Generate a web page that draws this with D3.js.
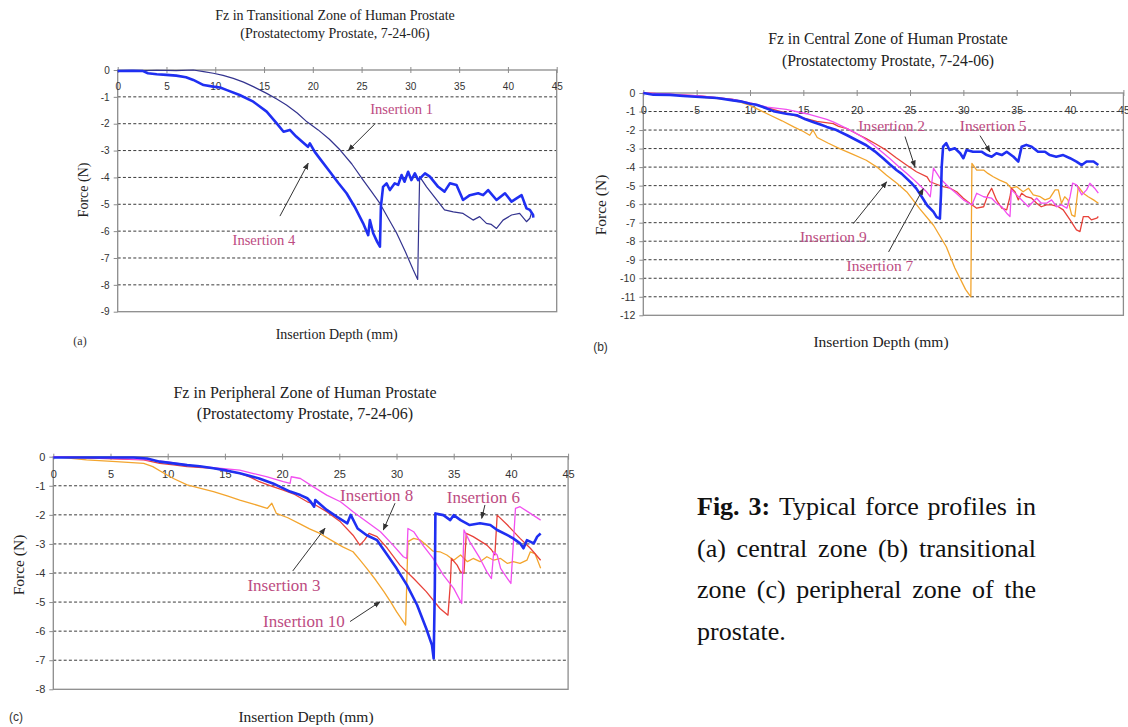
<!DOCTYPE html>
<html><head><meta charset="utf-8">
<script src="https://cdn.jsdelivr.net/npm/d3@7"></script>
<style>body{margin:0;background:#fff}svg{display:block}</style>
</head><body>
<svg id="fig" width="1128" height="727"></svg>
<script>
// ---------------- DATA ----------------
const xTickValues = [0,5,10,15,20,25,30,35,40,45];
const yTicksA = [0,-1,-2,-3,-4,-5,-6,-7,-8,-9];
const yTicksB = [0,-1,-2,-3,-4,-5,-6,-7,-8,-9,-10,-11,-12];
const yTicksC = [0,-1,-2,-3,-4,-5,-6,-7,-8];

const titleA = ["Fz in Transitional Zone of Human Prostate", "(Prostatectomy Prostate, 7-24-06)"];
const titleB = ["Fz in Central Zone of Human Prostate", "(Prostatectomy Prostate, 7-24-06)"];
const titleC = ["Fz in Peripheral Zone of Human Prostate", "(Prostatectomy Prostate, 7-24-06)"];
const xAxisTitle = "Insertion Depth (mm)";
const yAxisTitle = "Force (N)";
const panelTags = ["(a)", "(b)", "(c)"];

// Panel (a)
const insertion1 = [[0,-0.02],[2,-0.03],[4,-0.01],[6,-0.02],[7.75,0],[8.8,-0.06],[9.8,-0.12],[10.8,-0.2],[11.85,-0.31],[12.9,-0.45],[13.9,-0.62],[15.27,-0.87],[16.3,-1.08],[17.3,-1.3],[18.4,-1.6],[19.4,-1.93],[20.55,-2.23],[21.7,-2.58],[22.8,-2.98],[24.0,-3.5],[25.16,-4.1],[26.0,-4.52],[26.88,-4.97],[27.7,-5.5],[28.6,-6.08],[29.5,-6.78],[30.3,-7.45],[30.75,-7.8],[30.85,-5.84],[30.95,-3.97],[31.66,-4.35],[32.7,-4.84],[33.5,-5.21],[34.4,-5.28],[35.4,-5.34],[36.43,-5.59],[37.1,-5.46],[37.8,-5.71],[38.3,-5.75],[38.83,-5.9],[39.5,-5.59],[40.37,-5.4],[41.2,-5.34],[41.9,-5.65],[42.25,-5.52],[42.4,-5.34]];
const insertion4 = [[0,-0.04],[1.5,-0.03],[2.6,-0.04],[3.1,-0.12],[4,-0.16],[5,-0.18],[6,-0.21],[7,-0.27],[7.75,-0.37],[8.8,-0.56],[9.8,-0.62],[10.5,-0.65],[11.2,-0.75],[12.5,-0.93],[13.9,-1.18],[15.27,-1.55],[16.3,-1.99],[17,-2.3],[17.65,-2.23],[18.3,-2.48],[19.0,-2.7],[19.5,-2.86],[19.7,-2.73],[20.2,-3.05],[20.7,-3.29],[21.75,-3.79],[22.6,-4.2],[23.46,-4.59],[24.3,-5.1],[25.16,-5.71],[25.68,-6.15],[25.85,-5.59],[26.19,-6.08],[26.6,-6.4],[26.88,-6.58],[26.98,-5.09],[27.2,-4.35],[27.56,-4.22],[27.9,-4.47],[28.4,-4.22],[28.75,-4.28],[29.1,-3.91],[29.4,-4.16],[29.77,-3.79],[30.1,-4.1],[30.46,-3.85],[30.8,-4.1],[31.5,-3.85],[32,-3.97],[32.85,-4.35],[33.5,-4.53],[34.05,-4.22],[34.73,-4.28],[35.4,-4.84],[36.1,-4.66],[36.95,-4.59],[37.46,-4.66],[37.97,-4.47],[38.83,-4.84],[39.7,-4.59],[40.37,-4.9],[41.0,-4.75],[41.4,-4.66],[41.9,-5.15],[42.25,-5.21],[42.58,-5.4],[42.6,-5.5]];

// Panel (b)
const insertion7 = [[0,0],[2.2,-0.09],[5.3,-0.22],[7.8,-0.34],[9.1,-0.49],[10,-0.67],[11.0,-0.95],[11.9,-1.2],[13.0,-1.5],[14.1,-1.83],[15.0,-2.08],[15.6,-2.28],[15.9,-2.0],[16.3,-2.4],[17.3,-2.7],[18.4,-3.0],[19.6,-3.3],[20.9,-3.63],[21.9,-4.0],[22.8,-4.44],[23.8,-4.88],[24.7,-5.34],[25.9,-6.24],[27.2,-7.14],[28.4,-8.3],[29.2,-9.45],[30.2,-10.6],[30.7,-11.0],[30.8,-3.8],[31.25,-4.16],[31.9,-4.16],[32.3,-4.34],[32.8,-4.52],[33.4,-4.7],[34.06,-4.87],[34.5,-5.14],[35,-5.06],[35.6,-5.33],[36.1,-5.14],[36.55,-5.5],[37.2,-5.6],[37.65,-5.77],[38.1,-5.68],[38.6,-5.23],[38.9,-5.23],[39.2,-5.95],[39.5,-5.6],[39.8,-5.77],[40.15,-6.58],[40.45,-6.67],[40.77,-5.06],[41.24,-5.41],[41.7,-5.6],[42.2,-5.77],[42.65,-5.95]];
const insertion2 = [[0,0],[2.5,-0.08],[5.3,-0.16],[8.4,-0.34],[10.6,-0.63],[12.5,-0.94],[14.7,-1.3],[16.25,-1.53],[17.8,-1.65],[18.3,-1.8],[19.1,-1.92],[20.0,-2.2],[20.9,-2.46],[21.8,-2.75],[22.8,-3.1],[23.7,-3.5],[24.7,-3.9],[25.6,-4.25],[26.6,-4.53],[26.87,-4.79],[28.1,-5.06],[28.75,-5.14],[29.37,-5.33],[30,-5.68],[30.6,-5.95],[31.25,-6.22],[31.9,-6.14],[32.3,-5.5],[32.65,-5.14],[33.1,-5.77],[33.6,-6.22],[34.06,-6.31],[34.37,-5.6],[34.5,-5.14],[34.84,-5.33],[35.15,-5.77],[35.46,-5.41],[35.9,-5.6],[36.4,-5.68],[36.87,-5.95],[37.3,-6.14],[37.8,-6.04],[38.27,-6.04],[38.9,-6.14],[39.36,-6.31],[40,-6.85],[40.6,-7.39],[40.93,-7.48],[41.24,-6.67],[41.7,-6.67],[42,-6.85],[42.5,-6.76],[42.65,-6.67]];
const insertion5 = [[0,0],[2.5,-0.06],[5.3,-0.15],[8.4,-0.34],[10,-0.54],[11.6,-0.76],[13.4,-0.88],[15.3,-1.12],[17.2,-1.42],[17.8,-1.56],[19.1,-1.92],[19.7,-2.1],[20.6,-2.4],[21.6,-2.82],[22.4,-3.2],[23.1,-3.54],[23.9,-3.95],[24.7,-4.35],[25.3,-4.65],[25.9,-4.98],[26.5,-5.3],[26.9,-5.6],[27.05,-4.8],[27.2,-4.06],[27.8,-4.6],[28.6,-5.06],[29.3,-5.4],[30,-5.77],[30.8,-6.04],[31.25,-5.41],[31.9,-5.6],[32.65,-5.68],[33.1,-5.95],[33.6,-6.14],[34.06,-6.49],[34.37,-6.67],[34.5,-5.23],[35,-5.5],[35.6,-5.86],[36.1,-6.14],[36.4,-5.95],[36.87,-5.68],[37.3,-5.95],[37.8,-5.95],[38.27,-5.77],[38.75,-6.14],[39.2,-6.04],[39.7,-6.22],[40,-5.6],[40.24,-4.87],[40.6,-4.96],[41.1,-5.5],[41.55,-5.23],[41.86,-4.87],[42.3,-5.14],[42.65,-5.41]];
const insertion9 = [[0,0],[0.94,-0.09],[2.5,-0.1],[3.75,-0.16],[5.3,-0.22],[6.9,-0.27],[8.4,-0.4],[9.1,-0.45],[10,-0.58],[10.6,-0.63],[11.4,-0.8],[12.2,-0.98],[13.4,-1.12],[14.4,-1.2],[15.2,-1.42],[15.9,-1.56],[16.6,-1.7],[17.2,-1.83],[18.1,-2.0],[19.1,-2.28],[20.0,-2.55],[20.9,-2.82],[21.7,-3.15],[22.5,-3.54],[23.1,-3.85],[23.75,-4.17],[24.2,-4.35],[24.7,-4.62],[25.2,-4.9],[25.6,-5.16],[26.1,-5.6],[26.6,-6.06],[27.2,-6.42],[27.5,-6.7],[27.8,-6.78],[27.9,-5.5],[27.97,-3.98],[28.1,-2.9],[28.4,-2.71],[28.7,-3.08],[29.2,-2.98],[29.7,-3.25],[30,-3.52],[30.3,-3.08],[30.9,-3.17],[31.7,-3.17],[32.2,-3.35],[32.65,-3.44],[33.1,-3.25],[33.6,-3.35],[34.06,-3.17],[34.7,-3.44],[35.15,-3.7],[35.46,-2.9],[35.9,-2.8],[36.4,-2.9],[37,-3.17],[37.65,-3.17],[38.1,-3.35],[38.7,-3.44],[39.36,-3.35],[40,-3.52],[40.6,-3.7],[41.1,-3.89],[41.55,-3.7],[42.2,-3.7],[42.65,-3.89]];

// Panel (c)
const insertion10 = [[0,0],[2.9,-0.11],[5.5,-0.17],[7.9,-0.23],[8.7,-0.34],[9.6,-0.55],[10.5,-0.75],[11.7,-0.97],[12.8,-1.08],[14,-1.2],[15.2,-1.35],[16.3,-1.49],[17.5,-1.63],[18.7,-1.78],[19.1,-1.6],[19.5,-1.95],[20.5,-2.1],[21.6,-2.32],[22.4,-2.48],[23.3,-2.64],[24.5,-2.92],[25.3,-3.1],[26.2,-3.27],[26.8,-3.55],[27.4,-3.84],[28.2,-4.25],[28.9,-4.64],[29.5,-5.0],[30.0,-5.33],[30.8,-5.79],[30.9,-4.3],[31,-2.92],[31.5,-2.81],[32.1,-2.87],[32.6,-3.04],[33.2,-3.25],[33.8,-3.27],[34.4,-3.38],[35,-3.56],[35.6,-3.38],[36.2,-3.61],[36.7,-3.5],[37.3,-3.61],[37.9,-3.44],[38.5,-3.56],[39.1,-3.5],[39.7,-3.67],[40.2,-3.61],[40.8,-3.67],[41.4,-3.56],[41.7,-3.27],[42.1,-3.33],[42.6,-3.84]];
const insertion3 = [[0,0],[4,-0.06],[7.9,-0.11],[9.3,-0.23],[10.5,-0.28],[11.7,-0.34],[14,-0.4],[16.3,-0.57],[17.2,-0.7],[18,-0.86],[19,-1.0],[20.1,-1.15],[21.1,-1.3],[22.2,-1.55],[22.7,-1.61],[23.9,-1.89],[25.1,-2.24],[26.2,-2.7],[26.8,-3.04],[27.2,-2.87],[27.6,-2.64],[28.3,-2.75],[29.2,-3.15],[30.3,-3.73],[31.5,-4.19],[32.6,-4.64],[33.8,-5.22],[34.5,-5.45],[34.7,-4.41],[34.8,-3.5],[35.3,-3.73],[35.6,-3.96],[35.9,-4.01],[36.1,-2.64],[36.7,-2.75],[37.9,-3.04],[38.3,-3.2],[38.6,-3.38],[38.8,-2.01],[39.7,-2.35],[40.8,-2.81],[41.7,-3.15],[42.6,-3.56]];
const insertion8 = [[0,0],[4,-0.04],[8,-0.1],[10,-0.18],[12,-0.3],[14,-0.38],[16.3,-0.46],[17.5,-0.58],[18.7,-0.69],[20.1,-0.86],[20.7,-0.92],[20.8,-0.69],[21.6,-0.75],[22.7,-1.03],[23.9,-1.32],[25.1,-1.55],[26.2,-1.89],[27.4,-2.24],[28.6,-2.58],[29.7,-3.04],[30.6,-3.44],[30.9,-3.5],[31,-2.47],[31.5,-2.58],[32.3,-3.04],[33.2,-3.5],[34.1,-4.07],[35,-4.53],[35.7,-5.05],[35.9,-2.52],[36.4,-2.92],[37.3,-3.5],[37.9,-3.96],[38.3,-4.19],[38.5,-3.27],[38.8,-3.38],[39.1,-3.84],[39.7,-4.19],[40,-4.36],[40.4,-1.78],[40.8,-1.72],[41.7,-1.95],[42.6,-2.18]];
const insertion6 = [[0,-0.03],[3,-0.03],[7,-0.03],[8.2,-0.06],[9.3,-0.17],[10.5,-0.23],[11.7,-0.29],[12.8,-0.33],[14,-0.4],[15.2,-0.48],[16.3,-0.57],[17.2,-0.66],[18,-0.75],[19.2,-0.92],[20.7,-1.2],[21.6,-1.32],[22.2,-1.43],[22.5,-1.55],[22.8,-1.72],[22.9,-1.49],[23.4,-1.66],[23.9,-1.83],[24.8,-2.07],[25.7,-2.29],[26,-2.0],[26.6,-2.47],[27.4,-2.7],[28.3,-2.87],[29.2,-3.38],[30,-3.84],[30.9,-4.41],[31.8,-5.1],[32.6,-5.91],[33.1,-6.48],[33.25,-6.94],[33.35,-4.5],[33.4,-1.95],[34.1,-2.01],[34.7,-2.18],[35,-2.01],[35.6,-2.18],[36.4,-2.35],[37.3,-2.29],[38.2,-2.35],[38.8,-2.52],[39.7,-2.7],[40.2,-2.81],[40.8,-2.98],[41.1,-3.15],[41.4,-2.87],[42,-2.98],[42.3,-2.75],[42.6,-2.64]];

// annotation labels (text, label centre in data units, arrow tail, arrow head in data units)
const labelsA = [
  {t:"Insertion 1", at:[29.1,-1.43], from:[26.36,-2.01], to:[23.63,-3.0]},
  {t:"Insertion 4", at:[14.99,-6.31], from:[16.63,-5.44], to:[19.53,-3.47]}
];
const labelsB = [
  {t:"Insertion 2", at:[23.28,-1.74], from:[24.53,-2.35], to:[25.46,-3.99]},
  {t:"Insertion 5", at:[32.8,-1.76], from:[31.56,-2.3], to:[32.5,-3.18]},
  {t:"Insertion 9", at:[17.81,-7.73], from:[19.68,-7.05], to:[22.81,-4.8]},
  {t:"Insertion 7", at:[22.18,-9.3], from:[22.99,-8.58], to:[26.24,-5.16]}
];
const labelsC = [
  {t:"Insertion 8", at:[28.27,-1.32], from:[29.87,-1.6], to:[28.85,-2.52]},
  {t:"Insertion 6", at:[37.59,-1.4], from:[37.73,-1.66], to:[37.45,-2.12]},
  {t:"Insertion 3", at:[20.17,-4.41], from:[20.93,-3.93], to:[23.75,-2.46]},
  {t:"Insertion 10", at:[21.91,-5.65], from:[25.94,-5.67], to:[28.56,-4.99]}
];

const captionLines = [
  [["Fig.",1],["3:",1],["Typical",0],["force",0],["profiles",0],["in",0]],
  [["(a)",0],["central",0],["zone",0],["(b)",0],["transitional",0]],
  [["zone",0],["(c)",0],["peripheral",0],["zone",0],["of",0],["the",0]],
  [["prostate.",0]]
];

// ---------------- DRAWING ----------------
const svg = d3.select("#fig");
svg.append("rect").attr("width",1128).attr("height",727).attr("fill","#fff");
const defs = svg.append("defs");
defs.append("marker").attr("id","ah").attr("viewBox","0 0 10 10")
  .attr("refX",9).attr("refY",5).attr("markerWidth",7).attr("markerHeight",7)
  .attr("orient","auto").append("path").attr("d","M0,1 L10,5 L0,9 z").attr("fill","#333");

const SERIF = "'Liberation Serif','Times New Roman',serif";
const SANS = "'Liberation Sans',Arial,sans-serif";
const LABEL_COLOR = "#bd4c82";

function panel(p){
  const g = svg.append("g");
  const x = d3.scaleLinear().domain([0,45]).range(p.xr);
  const y = d3.scaleLinear().domain([d3.min(p.yticks),0]).range(p.yr);
  const ymin = d3.min(p.yticks);

  // dashed gridlines
  g.selectAll("line.grid").data(p.yticks.filter(v => v<0 && v>ymin)).join("line")
    .attr("x1", x(0)).attr("x2", x(45)).attr("y1", d=>y(d)).attr("y2", d=>y(d))
    .attr("stroke","#3a3a3a").attr("stroke-width",1).attr("stroke-dasharray","3,2.2");

  // frame
  g.append("rect").attr("x",x(0)).attr("y",y(0)).attr("width",x(45)-x(0)).attr("height",y(ymin)-y(0))
    .attr("fill","none").attr("stroke","#8c8c8c").attr("stroke-width",1.3);

  // y axis
  const ya = g.append("g").attr("transform",`translate(${x(0)},0)`)
    .call(d3.axisLeft(y).tickValues(p.yticks).tickSize(4).tickPadding(4).tickFormat(d=>String(d)));
  ya.select(".domain").remove();
  ya.selectAll("line").attr("stroke","#8c8c8c");
  ya.selectAll("text").attr("font-family",SANS).attr("font-size",p.tickFs).attr("fill","#333");

  // x axis (crosses at y = 0)
  const xa = g.append("g").attr("transform",`translate(0,${y(0)})`)
    .call(d3.axisBottom(x).tickValues(xTickValues).tickSize(3).tickFormat(d=>String(d)));
  xa.select(".domain").remove();
  xa.selectAll("line").attr("y1",-3).attr("y2",3).attr("stroke","#8c8c8c");
  xa.selectAll("text").attr("font-family",SANS).attr("font-size",p.tickFs).attr("fill","#333")
    .attr("y",p.xLabOff).attr("dy","0.35em");

  // series
  const line = d3.line().x(d=>x(d[0])).y(d=>y(d[1]));
  p.series.forEach(s=>{
    g.append("path").datum(s.data).attr("d",line).attr("fill","none")
      .attr("stroke",s.color).attr("stroke-width",s.w).attr("stroke-linejoin","round");
  });

  // annotations
  p.labels.forEach(l=>{
    g.append("line").attr("x1",x(l.from[0])).attr("y1",y(l.from[1]))
      .attr("x2",x(l.to[0])).attr("y2",y(l.to[1]))
      .attr("stroke","#333").attr("stroke-width",1).attr("marker-end","url(#ah)");
    g.append("text").attr("x",x(l.at[0])).attr("y",y(l.at[1])).attr("dy","0.35em")
      .attr("text-anchor","middle").attr("font-family",SERIF).attr("font-size",p.labFs)
      .attr("fill",LABEL_COLOR).text(l.t);
  });

  // titles
  p.title.forEach((t,i)=>{
    g.append("text").attr("x",p.titleX).attr("y",p.titleY[i]).attr("dy","0.35em")
      .attr("text-anchor","middle").attr("font-family",SERIF).attr("font-size",p.titleFs)
      .attr("fill","#222").text(t);
  });
  g.append("text").attr("x",p.xtPos[0]).attr("y",p.xtPos[1]).attr("dy","0.35em")
    .attr("text-anchor","middle").attr("font-family",SERIF).attr("font-size",p.axFs)
    .attr("fill","#222").text(xAxisTitle);
  g.append("text").attr("transform",`translate(${p.ytPos[0]},${p.ytPos[1]}) rotate(-90)`)
    .attr("dy","0.35em").attr("text-anchor","middle").attr("font-family",SERIF)
    .attr("font-size",p.axFs).attr("fill","#222").text(yAxisTitle);
  g.append("text").attr("x",p.tagPos[0]).attr("y",p.tagPos[1]).attr("dy","0.35em")
    .attr("text-anchor","middle").attr("font-family",p.tagFont).attr("font-size",12)
    .attr("fill","#333").text(p.tag);
}

const BLUE = "#1f2ff2", NAVY = "#33338f", ORANGE = "#f3a52e", RED = "#e8423a", MAGENTA = "#f24ff0";

panel({
  xr:[117.7,556.7], yr:[311.7,70], yticks:yTicksA, tickFs:10, xLabOff:16.7,
  series:[{data:insertion1,color:NAVY,w:1.2},{data:insertion4,color:BLUE,w:2.6}],
  labels:labelsA, labFs:14.6,
  title:titleA, titleX:335, titleY:[15,33.5], titleFs:14,
  xtPos:[336.7,334.3], ytPos:[83.5,190], axFs:14,
  tag:panelTags[0], tagPos:[80,340.5], tagFont:SERIF
});
panel({
  xr:[643.3,1123.4], yr:[315.3,93], yticks:yTicksB, tickFs:10.5, xLabOff:17.5,
  series:[{data:insertion7,color:ORANGE,w:1.3},{data:insertion2,color:RED,w:1.3},
          {data:insertion5,color:MAGENTA,w:1.3},{data:insertion9,color:BLUE,w:2.6}],
  labels:labelsB, labFs:15.5,
  title:titleB, titleX:888, titleY:[38.5,61], titleFs:15.7,
  xtPos:[881,342], ytPos:[600.5,205], axFs:15.5,
  tag:panelTags[1], tagPos:[600.5,347], tagFont:SANS
});
panel({
  xr:[53.3,568.1], yr:[689.3,456.7], yticks:yTicksC, tickFs:11, xLabOff:17.6,
  series:[{data:insertion10,color:ORANGE,w:1.3},{data:insertion3,color:RED,w:1.3},
          {data:insertion8,color:MAGENTA,w:1.3},{data:insertion6,color:BLUE,w:2.6}],
  labels:labelsC, labFs:17,
  title:titleC, titleX:305, titleY:[392,413], titleFs:16,
  xtPos:[306,717], ytPos:[18.5,565], axFs:15.5,
  tag:panelTags[2], tagPos:[16,717], tagFont:SANS
});

// caption, justified
const capX0 = 697, capX1 = 1036, capBase = [515,557.3,598.3,640], capFs = 26;
captionLines.forEach((words,li)=>{
  const nodes = words.map(([w,b])=> svg.append("text").attr("y",capBase[li])
    .attr("font-family",SERIF).attr("font-size",capFs).attr("font-weight",b?"bold":"normal")
    .attr("fill","#111").text(w));
  const widths = nodes.map(n=>n.node().getComputedTextLength());
  const total = d3.sum(widths);
  const last = li === captionLines.length-1;
  const gap = (last || words.length<2) ? capFs*0.25 : (capX1-capX0-total)/(words.length-1);
  let cx = capX0;
  nodes.forEach((n,i)=>{ n.attr("x",cx); cx += widths[i]+gap; });
});
</script>
</body></html>
